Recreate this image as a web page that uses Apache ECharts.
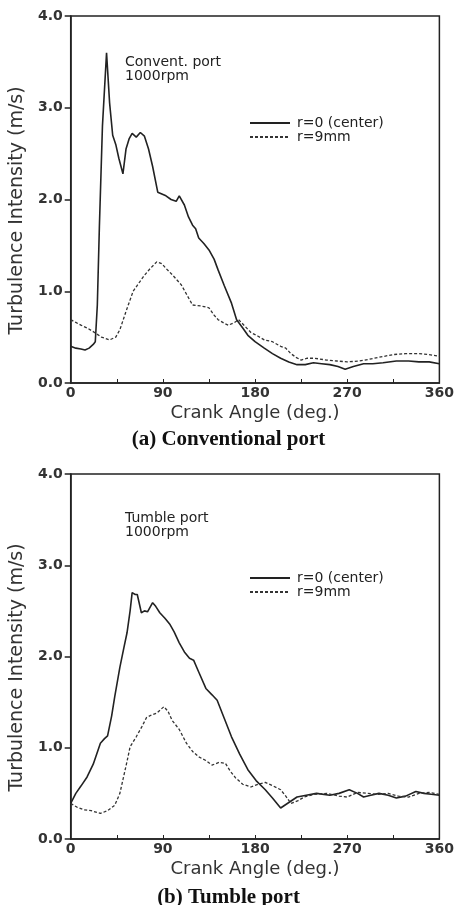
<!DOCTYPE html>
<html>
<head>
<meta charset="utf-8">
<script src="https://cdn.jsdelivr.net/npm/echarts@6/dist/echarts.min.js"></script>
<style>
  html, body { margin: 0; padding: 0; background: #fff; }
  #chart { width: 457px; height: 905px; }
</style>
</head>
<body>
<div id="chart"></div>
<script>
// crank angle ticks (deg.) and intensity ticks (m/s)
var angleTicks = [0, 90, 180, 270, 360]
var intensityTicks = [0, 1, 2, 3, 4]
var seriesNames = ['r=0 (center)', 'r=9mm']

// (a) Conventional port, [angle, intensity]
var convCenter = [
  [0, 0.40], [5, 0.38], [10, 0.37], [14, 0.36], [18, 0.38], [22, 0.42], [24, 0.45],
  [26, 0.85], [28, 1.7], [31, 2.8], [35, 3.6], [38, 3.05], [41, 2.7], [44, 2.6],
  [47, 2.45], [51, 2.28], [54, 2.55], [57, 2.66], [60, 2.72], [64, 2.68], [68, 2.73],
  [72, 2.69], [76, 2.55], [80, 2.36], [85, 2.08], [89, 2.06], [93, 2.04], [98, 2.0],
  [103, 1.98], [106, 2.04], [111, 1.94], [115, 1.81], [119, 1.72], [122, 1.68],
  [125, 1.58], [130, 1.52], [135, 1.45], [140, 1.35], [144, 1.23], [150, 1.06],
  [157, 0.87], [162, 0.69], [168, 0.6], [173, 0.52], [180, 0.45], [189, 0.38],
  [197, 0.32], [205, 0.27], [213, 0.23], [221, 0.2], [229, 0.2], [237, 0.22],
  [245, 0.21], [253, 0.2], [261, 0.18], [268, 0.15], [276, 0.18], [286, 0.21],
  [295, 0.21], [305, 0.22], [318, 0.24], [330, 0.24], [340, 0.23], [350, 0.23], [360, 0.21]
]
var convOuter = [
  [0, 0.69], [5, 0.66], [10, 0.63], [16, 0.6], [22, 0.56], [30, 0.5], [38, 0.47],
  [44, 0.5], [48, 0.58], [54, 0.78], [61, 1.0], [66, 1.08], [71, 1.16], [77, 1.24],
  [84, 1.32], [89, 1.3], [93, 1.25], [100, 1.17], [108, 1.07], [114, 0.95],
  [119, 0.85], [127, 0.84], [135, 0.82], [140, 0.74], [144, 0.69], [150, 0.65],
  [154, 0.63], [160, 0.66], [164, 0.69], [170, 0.62], [176, 0.55], [183, 0.51],
  [189, 0.47], [197, 0.45], [205, 0.4], [210, 0.38], [215, 0.32], [220, 0.28],
  [225, 0.25], [231, 0.27], [238, 0.27], [250, 0.25], [260, 0.24], [270, 0.23],
  [282, 0.24], [292, 0.26], [301, 0.28], [315, 0.31], [327, 0.32], [340, 0.32],
  [350, 0.31], [360, 0.29]
]

// (b) Tumble port, [angle, intensity]
var tumbCenter = [
  [0, 0.39], [5, 0.5], [10, 0.58], [16, 0.68], [22, 0.82], [29, 1.05], [33, 1.1],
  [36, 1.13], [40, 1.35], [43, 1.56], [48, 1.88], [52, 2.1], [55, 2.26], [58, 2.5],
  [60, 2.7], [63, 2.68], [65, 2.68], [69, 2.48], [72, 2.5], [75, 2.49], [80, 2.59],
  [83, 2.55], [87, 2.48], [92, 2.42], [97, 2.35], [101, 2.27], [106, 2.15],
  [111, 2.05], [116, 1.98], [120, 1.96], [125, 1.83], [132, 1.65], [138, 1.58],
  [143, 1.52], [150, 1.32], [157, 1.12], [165, 0.93], [173, 0.76], [181, 0.64],
  [190, 0.54], [197, 0.45], [205, 0.34], [213, 0.4], [221, 0.46], [230, 0.48],
  [240, 0.5], [253, 0.48], [262, 0.5], [272, 0.54], [280, 0.5], [286, 0.46],
  [293, 0.48], [301, 0.5], [310, 0.48], [318, 0.45], [327, 0.47], [337, 0.52],
  [345, 0.5], [352, 0.49], [360, 0.48]
]
var tumbOuter = [
  [0, 0.39], [6, 0.35], [13, 0.32], [20, 0.31], [29, 0.28], [36, 0.31], [43, 0.37],
  [48, 0.5], [51, 0.65], [55, 0.85], [58, 1.01], [64, 1.12], [69, 1.22], [74, 1.33],
  [79, 1.36], [84, 1.38], [88, 1.42], [91, 1.45], [95, 1.4], [99, 1.3], [106, 1.2],
  [113, 1.05], [119, 0.96], [125, 0.9], [132, 0.86], [138, 0.81], [145, 0.84],
  [151, 0.83], [156, 0.74], [161, 0.67], [168, 0.6], [176, 0.57], [183, 0.6],
  [190, 0.62], [198, 0.58], [205, 0.54], [210, 0.47], [215, 0.39], [222, 0.42],
  [228, 0.46], [238, 0.49], [250, 0.5], [262, 0.47], [270, 0.46], [280, 0.51],
  [290, 0.5], [300, 0.49], [310, 0.5], [320, 0.47], [330, 0.46], [340, 0.5],
  [350, 0.51], [360, 0.49]
]

var ink = '#222'
var plotFont = 'DejaVu Sans'

function xAxisOf(idx) {
  return {
    type: 'value',
    gridIndex: idx,
    min: angleTicks[0],
    max: angleTicks[angleTicks.length - 1],
    interval: 90,
    name: 'Crank Angle (deg.)',
    nameLocation: 'middle',
    nameGap: 21,
    nameTextStyle: { fontFamily: plotFont, fontSize: 18, color: '#333' },
    axisLine: { lineStyle: { color: ink, width: 1.5 } },
    axisTick: { inside: true, length: 4, lineStyle: { color: ink } },
    minorTick: { show: true, splitNumber: 2, length: 4, lineStyle: { color: ink } },
    splitLine: { show: false },
    axisLabel: { fontFamily: plotFont, fontSize: 14, fontWeight: 'bold', color: '#333', margin: 3 }
  }
}

function yAxisOf(idx) {
  return {
    type: 'value',
    gridIndex: idx,
    min: intensityTicks[0],
    max: intensityTicks[intensityTicks.length - 1],
    interval: 1,
    name: 'Turbulence Intensity (m/s)',
    nameLocation: 'middle',
    nameGap: 28,
    nameTextStyle: { fontFamily: plotFont, fontSize: 19, color: '#333', padding: [0, 22, 0, 0] },
    axisLine: { lineStyle: { color: ink, width: 1.5 } },
    axisTick: { length: 6, lineStyle: { color: ink, width: 1.5 } },
    splitLine: { show: false },
    axisLabel: {
      fontFamily: plotFont, fontSize: 14, fontWeight: 'bold', color: '#333', margin: 8,
      formatter: function(v) { return v.toFixed(1) }
    }
  }
}

function lineOf(name, data, idx, dashed) {
  return {
    name: name,
    type: 'line',
    xAxisIndex: idx,
    yAxisIndex: idx,
    data: data,
    showSymbol: false,
    symbol: 'none',
    smooth: false,
    animation: false,
    itemStyle: { color: ink },
    lineStyle: dashed
      ? { color: '#333', width: 1.3, type: [3, 2] }
      : { color: ink, width: 1.6 }
  }
}

function legendOf(top) {
  return {
    data: seriesNames,
    orient: 'vertical',
    left: 244,
    top: top,
    itemWidth: 40,
    itemHeight: 8,
    itemGap: 0,
    selectedMode: false,
    itemStyle: { color: 'transparent', borderWidth: 0 },
    textStyle: { fontFamily: plotFont, fontSize: 14, lineHeight: 12, color: '#222', padding: [0, 0, 0, 2] }
  }
}

var noteStyle = { fontFamily: plotFont, fontSize: 14, color: '#222', lineHeight: 14, fontWeight: 'normal' }
var captionStyle = { fontFamily: 'Liberation Serif', fontSize: 21, fontWeight: 'bold', color: '#111' }

var chart = echarts.init(document.getElementById('chart'))
chart.setOption({
  backgroundColor: '#fff',
  animation: false,
  title: [
    { text: 'Convent. port\n1000rpm', left: 125, top: 55, padding: 0, textStyle: noteStyle },
    { text: 'Tumble port\n1000rpm', left: 125, top: 511, padding: 0, textStyle: noteStyle },
    { text: '(a) Conventional port', left: 'center', top: 429, padding: 0, textStyle: captionStyle },
    { text: '(b) Tumble port', left: 'center', top: 887, padding: 0, textStyle: captionStyle }
  ],
  legend: [legendOf(111), legendOf(566)],
  grid: [
    { left: 70, top: 16, width: 374, height: 367, show: true, borderColor: ink, borderWidth: 1.5 },
    { left: 70, top: 474, width: 373, height: 365, show: true, borderColor: ink, borderWidth: 1.5 }
  ],
  xAxis: [xAxisOf(0), xAxisOf(1)],
  yAxis: [yAxisOf(0), yAxisOf(1)],
  series: [
    lineOf(seriesNames[0], convCenter, 0, false),
    lineOf(seriesNames[1], convOuter, 0, true),
    lineOf(seriesNames[0], tumbCenter, 1, false),
    lineOf(seriesNames[1], tumbOuter, 1, true)
  ]
})
</script>
</body>
</html>
